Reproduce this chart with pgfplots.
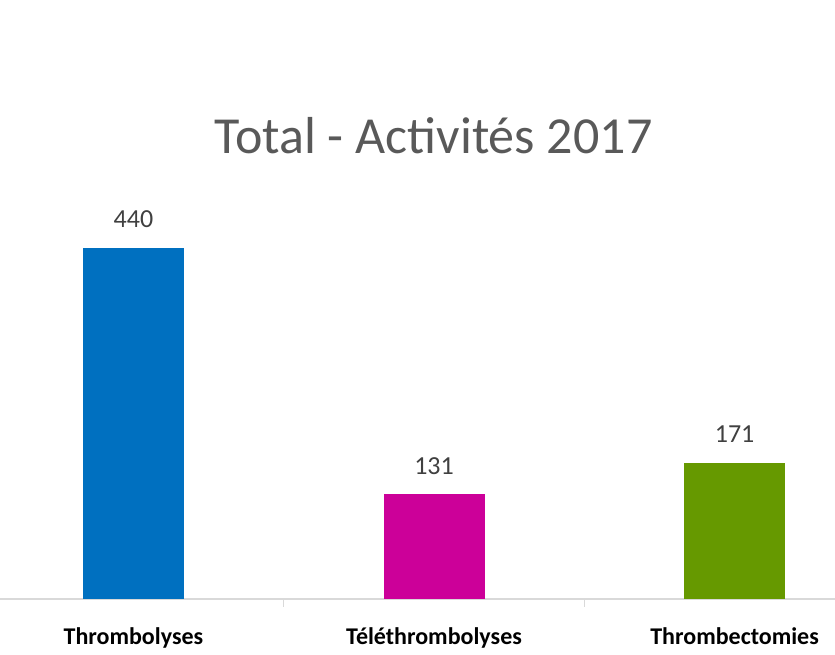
\documentclass[border=0pt]{standalone}
\usepackage{fontspec}
\setmainfont{Carlito}
\usepackage{pgfplots}
\pgfplotsset{compat=1.18}
\definecolor{cblue}{HTML}{0070C0}
\definecolor{cmag}{HTML}{CC0099}
\definecolor{cgreen}{HTML}{669900}
\definecolor{titlegray}{HTML}{595959}
\definecolor{valgray}{HTML}{404040}
\definecolor{axgray}{HTML}{D9D9D9}
\begin{document}
\begin{tikzpicture}
\path[use as bounding box] (0,0) rectangle (835pt,655pt);
\begin{axis}[
  at={(0pt,56pt)}, anchor=south west,
  scale only axis, width=835pt, height=598.3pt,
  xmin=-0.444, xmax=2.334, ymin=0, ymax=750,
  axis y line=none,
  axis x line*=bottom,
  x axis line style={axgray, line width=1.2pt, -},
  xtick={0,1,2},
  xticklabels={Thrombolyses, Téléthrombolyses, Thrombectomies},
  major x tick style={draw=none},
  minor xtick={0.5,1.5},
  minor x tick style={axgray, line width=1.2pt},
  minor tick length=8pt,
  tickpos=left, xtick align=outside,
  xticklabel style={font=\fontsize{24}{30}\selectfont\bfseries, text=black, anchor=base, yshift=-41pt},
  /pgf/number format/assume math mode=true,
  ybar, bar width=101pt, bar shift=0pt,
  nodes near coords,
  every node near coord/.append style={font=\fontsize{26}{30}\selectfont, text=valgray, anchor=base, yshift=20pt, inner sep=0pt},
  clip=false,
]
\addplot[fill=cblue, draw=none] coordinates {(0,440)};
\addplot[fill=cmag, draw=none] coordinates {(1,131)};
\addplot[fill=cgreen, draw=none] coordinates {(2,171)};
\node[font=\fontsize{52}{60}\selectfont, text=titlegray, anchor=base] at (axis cs:0.998,558) {Total - Activités 2017};
\end{axis}
\end{tikzpicture}
\end{document}
